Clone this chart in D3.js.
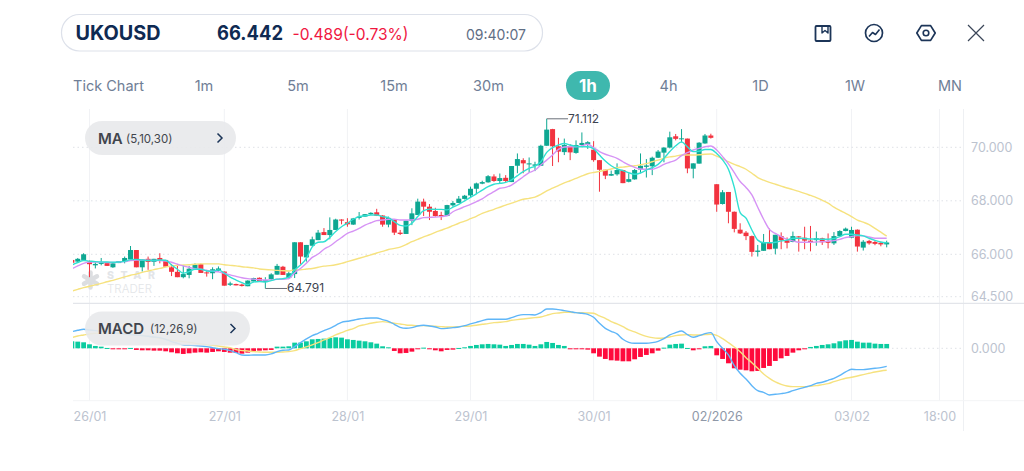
<!DOCTYPE html>
<html>
<head>
<meta charset="utf-8">
<script src="https://cdn.jsdelivr.net/npm/d3@7"></script>
<style>
  html, body { margin: 0; padding: 0; background: #fff; }
  svg { display: block; font-family: Inter, "Open Sans", sans-serif; }
</style>
</head>
<body>
<svg id="chart" width="1024" height="471"></svg>
<script>
// Hourly candles for UKOUSD
const opens = [
  65.80,65.74,65.80,65.74,65.61,65.66,65.69,65.54,65.69,65.73,
  65.82,66.16,65.54,65.84,65.73,65.87,65.80,65.54,65.38,65.19,
  65.27,65.47,65.65,65.36,65.33,65.41,65.39,64.92,64.95,64.93,
  64.87,65.04,65.17,65.02,65.12,65.28,65.56,65.16,65.30,66.45,
  65.89,66.32,66.53,66.83,66.72,66.91,67.30,67.20,67.11,67.36,
  67.41,67.50,67.57,67.45,67.11,67.30,66.81,66.76,67.25,67.47,
  67.97,67.78,67.62,67.47,67.43,67.83,67.92,68.07,68.20,68.45,
  68.64,68.69,68.91,68.74,68.86,68.70,69.31,69.52,69.36,69.31,
  69.31,70.06,70.71,70.04,69.82,70.05,69.79,70.09,70.12,69.91,
  69.52,69.16,68.94,68.99,69.15,68.71,68.80,69.17,69.27,69.29,
  69.61,69.80,69.99,70.43,70.32,70.34,69.20,69.39,70.15,70.46,
  68.62,67.88,68.33,67.59,66.92,66.81,66.68,66.09,66.13,66.44,
  66.21,66.68,66.53,66.46,66.67,66.62,66.51,66.53,66.60,66.50,
  66.41,66.68,66.87,66.62,66.92,66.25,66.50,66.46,66.43,66.37];
const highs = [
  65.86,65.87,66.04,65.78,65.72,65.87,65.71,65.70,65.76,65.92,
  66.31,66.16,65.82,65.92,65.84,66.04,65.80,65.66,65.66,65.60,
  65.59,65.68,65.67,65.45,65.54,65.57,65.39,65.03,64.96,64.96,
  65.08,65.17,65.18,65.19,65.33,65.66,65.59,65.39,66.45,66.45,
  66.35,66.66,66.91,66.98,67.38,67.33,67.31,67.35,67.36,67.58,
  67.50,67.57,67.70,67.46,67.41,67.31,66.91,67.26,67.72,68.08,
  68.08,67.88,67.74,67.59,67.85,67.99,68.18,68.22,68.53,68.68,
  68.75,68.96,68.99,69.02,68.96,69.30,69.77,69.59,69.62,69.46,
  70.10,71.112,70.72,70.37,70.34,70.12,70.27,70.58,70.24,70.24,
  69.52,69.16,69.13,69.40,69.16,69.03,69.19,69.77,69.56,69.65,
  69.90,70.00,70.61,70.52,70.71,70.34,69.40,70.20,70.52,70.53,
  68.62,68.40,68.33,67.60,67.16,66.87,66.70,66.35,66.76,66.96,
  66.73,66.82,66.63,66.85,66.68,67.03,67.06,66.85,66.62,66.78,
  66.83,66.90,67.00,67.03,66.93,66.53,66.54,66.51,66.46,66.51];
const lows = [
  65.66,65.73,65.80,65.19,65.50,65.61,65.59,65.52,65.69,65.68,
  65.82,65.54,65.39,65.45,65.59,65.68,65.56,65.23,65.19,65.15,
  65.15,65.45,65.34,65.21,65.12,65.39,64.89,64.88,64.90,64.86,
  64.87,65.04,65.02,64.791,65.07,65.28,65.27,65.12,65.16,65.66,
  65.74,66.30,66.53,66.72,66.56,66.91,67.12,67.03,67.10,67.30,
  67.40,67.47,67.43,67.03,67.01,66.72,66.72,66.76,67.09,67.47,
  67.43,67.28,67.41,67.28,67.43,67.78,67.92,68.05,68.13,68.25,
  68.62,68.68,68.71,68.65,68.70,68.70,69.03,69.03,69.05,69.11,
  69.31,70.06,69.30,69.44,69.71,69.52,69.76,70.06,69.94,69.46,
  68.34,68.81,68.93,68.94,68.66,68.69,68.79,69.03,68.87,68.96,
  69.60,69.44,69.96,70.27,70.19,69.03,68.84,69.39,70.14,70.34,
  67.59,67.86,67.16,66.82,66.76,66.53,65.92,65.92,66.13,66.19,
  66.00,66.19,66.22,66.45,66.10,66.19,66.11,66.32,66.35,66.22,
  66.35,66.67,66.86,66.60,66.10,66.14,66.36,66.34,66.30,66.26];
const closes = [
  65.70,65.84,66.00,65.65,65.66,65.70,65.59,65.68,65.76,65.87,
  66.16,65.54,65.82,65.73,65.84,65.78,65.56,65.38,65.19,65.30,
  65.49,65.63,65.34,65.33,65.47,65.50,64.89,64.97,64.90,64.88,
  65.07,65.16,65.02,65.09,65.29,65.59,65.27,65.33,66.45,65.92,
  66.35,66.56,66.81,66.72,66.91,67.30,67.26,67.12,67.34,67.41,
  67.50,67.55,67.44,67.11,67.36,66.81,66.76,67.26,67.53,67.97,
  67.78,67.59,67.43,67.42,67.84,67.92,68.08,68.19,68.45,68.65,
  68.70,68.92,68.74,68.85,68.74,69.30,69.56,69.40,69.40,69.36,
  70.06,70.69,70.04,69.84,70.09,69.81,70.09,70.17,70.20,69.52,
  69.16,68.94,69.00,69.15,68.66,68.81,69.15,69.31,69.32,69.61,
  69.84,69.99,70.39,70.33,70.35,69.21,69.40,70.18,70.46,70.37,
  67.86,68.32,67.59,66.95,66.78,66.68,66.09,66.14,66.45,66.19,
  66.73,66.52,66.43,66.68,66.65,66.51,66.46,66.60,66.45,66.43,
  66.68,66.87,66.96,66.91,66.29,66.47,66.41,66.39,66.37,66.442];

// Moving averages of the close
const ma5 = [
  65.62,65.71,65.78,65.76,65.74,65.73,65.73,65.72,65.73,65.75,
  65.81,65.82,65.80,65.78,65.78,65.80,65.79,65.62,65.47,65.33,
  65.39,65.47,65.47,65.41,65.40,65.45,65.33,65.19,65.09,65.00,
  64.93,65.02,65.04,65.02,65.07,65.12,65.14,65.19,65.45,65.62,
  65.86,66.28,66.45,66.47,66.63,66.85,67.03,67.16,67.31,67.41,
  67.44,67.47,67.47,67.41,67.37,67.22,67.08,67.06,67.16,67.41,
  67.63,67.69,67.68,67.68,67.66,67.76,67.87,68.00,68.13,68.26,
  68.40,68.53,68.62,68.65,68.69,68.78,68.94,69.09,69.21,69.30,
  69.46,69.81,69.99,70.09,70.15,70.09,70.04,70.02,70.02,69.94,
  69.71,69.49,69.31,69.19,69.13,69.05,68.99,69.04,69.15,69.24,
  69.36,69.59,69.84,70.06,70.21,70.02,69.84,69.85,69.92,69.92,
  69.77,69.53,69.18,68.50,67.56,67.35,66.91,66.53,66.43,66.43,
  66.45,66.50,66.53,66.60,66.60,66.59,66.57,66.57,66.56,66.56,
  66.59,66.66,66.75,66.75,66.72,66.69,66.60,66.52,66.46,66.43];
const ma10 = [
  65.49,65.59,65.68,65.73,65.73,65.72,65.71,65.71,65.73,65.74,
  65.78,65.80,65.80,65.79,65.78,65.78,65.76,65.72,65.65,65.59,
  65.54,65.49,65.47,65.43,65.40,65.38,65.33,65.27,65.22,65.17,
  65.14,65.12,65.10,65.09,65.09,65.12,65.12,65.14,65.35,65.50,
  65.68,65.89,66.01,66.19,66.31,66.47,66.63,66.78,66.87,66.97,
  67.09,67.18,67.26,67.28,67.31,67.31,67.28,67.28,67.28,67.31,
  67.37,67.38,67.39,67.41,67.44,67.59,67.69,67.78,67.87,67.97,
  68.07,68.22,68.34,68.47,68.50,68.59,68.74,68.90,69.05,69.15,
  69.34,69.52,69.71,69.92,70.01,70.02,70.02,70.06,70.12,69.99,
  69.84,69.74,69.67,69.59,69.46,69.34,69.25,69.19,69.18,69.18,
  69.25,69.36,69.44,69.52,69.69,69.80,69.90,69.96,70.02,70.05,
  69.90,69.65,69.38,69.05,68.72,68.50,68.22,67.76,67.31,66.93,
  66.78,66.66,66.56,66.50,66.45,66.45,66.45,66.46,66.47,66.49,
  66.51,66.56,66.63,66.66,66.70,66.69,66.65,66.60,66.60,66.60];
const ma30 = [
  64.70,64.76,64.82,64.87,64.92,64.97,65.03,65.08,65.14,65.20,
  65.26,65.30,65.36,65.41,65.46,65.50,65.55,65.59,65.61,65.62,
  65.63,65.65,65.66,65.66,65.66,65.66,65.63,65.61,65.59,65.56,
  65.54,65.52,65.48,65.46,65.45,65.43,65.42,65.41,65.45,65.45,
  65.48,65.50,65.54,65.58,65.60,65.63,65.68,65.74,65.80,65.86,
  65.92,65.98,66.05,66.11,66.18,66.22,66.27,66.36,66.47,66.56,
  66.65,66.73,66.82,66.90,66.98,67.07,67.16,67.24,67.33,67.42,
  67.53,67.61,67.68,67.76,67.84,67.91,67.99,68.06,68.09,68.14,
  68.24,68.37,68.47,68.57,68.67,68.75,68.84,68.93,69.01,69.06,
  69.10,69.14,69.19,69.24,69.26,69.29,69.31,69.35,69.39,69.46,
  69.52,69.59,69.64,69.67,69.71,69.71,69.71,69.72,69.74,69.75,
  69.67,69.58,69.46,69.36,69.28,69.18,69.03,68.87,68.77,68.69,
  68.62,68.55,68.48,68.42,68.35,68.28,68.20,68.12,68.02,67.91,
  67.76,67.64,67.53,67.41,67.28,67.20,67.11,66.97,66.83,66.68];

// MACD (12,26,9)
const dif = [
  .333,.36,.38,.367,.353,.34,.327,.313,.30,.287,
  .273,.267,.253,.24,.227,.213,.18,.133,.10,.067,
  .06,.053,.047,.033,.013,-.007,-.02,-.047,-.087,-.133,
  -.14,-.133,-.133,-.133,-.113,-.067,-.04,-.033,.033,.113,
  .187,.253,.30,.353,.40,.46,.52,.54,.56,.587,
  .60,.607,.607,.573,.54,.48,.42,.40,.413,.447,
  .46,.447,.427,.393,.40,.413,.427,.453,.487,.52,
  .553,.58,.58,.58,.58,.613,.653,.673,.673,.667,
  .713,.787,.787,.773,.753,.733,.713,.70,.68,.62,
  .50,.40,.34,.287,.18,.12,.10,.10,.10,.113,
  .14,.193,.267,.313,.347,.273,.22,.253,.293,.313,
  .133,0,-.133,-.347,-.50,-.613,-.747,-.847,-.88,-.933,
  -.92,-.907,-.887,-.847,-.813,-.78,-.747,-.70,-.68,-.64,
  -.60,-.54,-.473,-.42,-.427,-.427,-.413,-.40,-.387,-.36];
const dea = [
  .213,.247,.267,.287,.30,.30,.30,.30,.30,.287,
  .273,.267,.253,.24,.22,.20,.18,.16,.147,.133,
  .12,.10,.087,.073,.06,.047,.027,.013,-.027,-.047,
  -.053,-.067,-.073,-.08,-.08,-.08,-.073,-.067,-.047,-.007,
  .027,.067,.113,.167,.213,.267,.313,.36,.393,.447,
  .473,.50,.52,.533,.52,.50,.487,.467,.46,.453,
  .453,.447,.44,.433,.427,.427,.433,.44,.447,.46,
  .48,.493,.513,.52,.533,.56,.573,.587,.60,.613,
  .627,.66,.693,.707,.72,.72,.713,.713,.707,.70,
  .647,.60,.533,.487,.433,.367,.327,.28,.24,.213,
  .20,.207,.227,.253,.267,.273,.267,.267,.273,.28,
  .26,.193,.113,.027,-.067,-.187,-.287,-.40,-.513,-.60,
  -.673,-.72,-.753,-.767,-.767,-.767,-.76,-.747,-.727,-.707,
  -.667,-.633,-.60,-.58,-.553,-.527,-.50,-.473,-.453,-.44];
const hist = [
  .14,.133,.12,.08,.047,.033,.007,-.013,-.013,-.013,
  .007,-.033,-.04,-.04,-.047,-.047,-.06,-.08,-.10,-.113,
  -.10,-.087,-.08,-.087,-.073,-.06,-.073,-.087,-.093,-.107,
  -.087,-.053,-.047,-.04,-.033,.033,.033,.04,.113,.113,
  .14,.18,.187,.193,.207,.22,.213,.18,.167,.153,
  .14,.12,.093,.04,.02,-.053,-.10,-.093,-.067,-.013,
  .013,-.02,-.04,-.06,-.033,-.027,.007,.02,.047,.067,
  .08,.087,.08,.073,.047,.067,.087,.087,.073,.047,
  .08,.127,.107,.067,.047,-.013,-.013,-.013,-.027,-.10,
  -.167,-.213,-.24,-.247,-.26,-.26,-.22,-.173,-.133,-.10,
  -.047,.013,.073,.087,.093,.007,-.04,-.02,.04,.047,
  -.14,-.213,-.30,-.40,-.427,-.44,-.46,-.453,-.393,-.353,
  -.253,-.20,-.153,-.087,-.04,-.013,.027,.047,.067,.08,
  .10,.14,.16,.167,.133,.113,.113,.093,.087,.087];

// Axis labels and header text
const priceTicks = [70, 68, 66, 64.5];
const macdTicks = [0];
const timeTickIndex = [3, 26, 47, 68, 89, 110, 133, 148];
const timeTickLabels = ["26/01", "27/01", "28/01", "29/01", "30/01", "02/2026", "03/02", "18:00"];
const periods = ["Tick Chart", "1m", "5m", "15m", "30m", "1h", "4h", "1D", "1W", "MN"];
const periodCenters = [108.5, 204, 298, 394, 488.5, 588, 668.5, 760.5, 855, 950];
const symbol = "UKOUSD", lastPrice = "66.442", change = "-0.489(-0.73%)", clock = "09:40:07";
const highMark = 71.112, lowMark = 64.791;

const svg = d3.select("#chart");
const n = closes.length;

const x = d3.scaleLinear().domain([0, 139]).range([71.9, 886.7]);
const y = d3.scaleLinear().domain([64.5, 66, 70, 71.112]).range([296.7, 254.3, 147.3, 118.8]);
const m = d3.scaleLinear().domain([-1, 1]).range([398.3, 298.3]);

const clipLeft = 73, gridRight = 963.5;
svg.append("defs").append("clipPath").attr("id", "plot")
  .append("rect").attr("x", clipLeft).attr("y", 100).attr("width", gridRight - clipLeft).attr("height", 302);

// Header pill
svg.append("rect").attr("x", 61.5).attr("y", 14.5).attr("width", 481).attr("height", 36.5).attr("rx", 18)
  .attr("fill", "#fff").attr("stroke", "#dde1ea").attr("stroke-width", 1.2);
const head = (txt, px, size, weight, color, tl) => {
  const t = svg.append("text").attr("x", px).attr("y", 40).text(txt)
    .attr("font-size", size).attr("font-weight", weight).attr("fill", color);
  if (tl) t.attr("textLength", tl).attr("lengthAdjust", "spacingAndGlyphs");
  return t;
};
head(symbol, 75.5, 19.5, 700, "#0f2a52", 85);
head(lastPrice, 217, 19.5, 700, "#0f2a52", 66);
head(change, 292.5, 16.5, 400, "#f0173f", 116);
head(clock, 466, 14.5, 400, "#5f6e85", 60);

// Toolbar icons
const ink = "#1c3558";
const icons = svg.append("g").attr("fill", "none").attr("stroke", ink).attr("stroke-linejoin", "round");
icons.append("rect").attr("x", 815.5).attr("y", 26).attr("width", 15).attr("height", 15).attr("rx", 1).attr("stroke-width", 1.8);
icons.append("path").attr("d", "M822,26V33L825,30.5L828,33V26").attr("stroke-width", 1.4);
icons.append("circle").attr("cx", 874).attr("cy", 33).attr("r", 8.5).attr("stroke-width", 1.7);
icons.append("path").attr("d", "M869,36.5L872.5,32.5L875.5,34.5L879.5,29.5").attr("stroke-width", 1.6);
icons.append("path").attr("d", "M916.8,33L921.4,25.6H930.6L935.2,33L930.6,40.4H921.4Z").attr("stroke-width", 1.7);
icons.append("circle").attr("cx", 926).attr("cy", 33).attr("r", 2.8).attr("stroke-width", 1.6);
icons.append("path").attr("d", "M968,25L984,41M984,25L968,41").attr("stroke", "#3a4658").attr("stroke-width", 1.2);

// Period selector
svg.append("rect").attr("x", 566).attr("y", 71).attr("width", 44).attr("height", 29).attr("rx", 14.5).attr("fill", "#3fb8ae");
svg.append("g").selectAll("text").data(periods).join("text")
  .attr("x", (d, i) => periodCenters[i]).attr("y", (d, i) => d === "1h" ? 92 : 90.5)
  .attr("text-anchor", "middle")
  .attr("font-size", d => d === "1h" ? 17 : 14.5)
  .attr("font-weight", d => d === "1h" ? 700 : 400)
  .attr("fill", d => d === "1h" ? "#fff" : "#6f7e96")
  .text(d => d);

// Grid
const grid = svg.append("g");
grid.selectAll("line.v").data(timeTickIndex).join("line").attr("class", "v")
  .attr("x1", d => x(d)).attr("x2", d => x(d)).attr("y1", 109).attr("y2", 400.5)
  .attr("stroke", "#f1f2f5");
grid.selectAll("line.h").data(priceTicks).join("line").attr("class", "h")
  .attr("x1", clipLeft).attr("x2", gridRight).attr("y1", d => y(d)).attr("y2", d => y(d))
  .attr("stroke", "#dfe2e7").attr("stroke-dasharray", "1.5 3");
grid.append("line").attr("x1", clipLeft).attr("x2", gridRight).attr("y1", m(0)).attr("y2", m(0))
  .attr("stroke", "#dfe2e7").attr("stroke-dasharray", "1.5 3");
grid.append("line").attr("x1", gridRight).attr("x2", gridRight).attr("y1", 109).attr("y2", 431).attr("stroke", "#eef0f3");
grid.append("line").attr("x1", clipLeft).attr("x2", 1024).attr("y1", 303.3).attr("y2", 303.3).attr("stroke", "#e3e5ea").attr("stroke-width", 1.2);
grid.append("line").attr("x1", clipLeft).attr("x2", 1024).attr("y1", 400.7).attr("y2", 400.7).attr("stroke", "#f3f4f6");

// Watermark
const mark = svg.append("g").attr("fill", "#e3e5e8");
mark.append("text").attr("x", 107).attr("y", 279).attr("font-size", 10.5).attr("font-weight", 800).attr("letter-spacing", 6.6).text("STAR");
mark.append("text").attr("x", 107).attr("y", 292.5).attr("font-size", 11.5).attr("font-weight", 300).attr("textLength", 45).text("TRADER");
mark.append("g").attr("transform", "translate(90.5,280)")
  .selectAll("line").data([0, 60, 120]).join("line")
  .attr("x1", -7.5).attr("x2", 7.5).attr("transform", d => `rotate(${d + 30})`)
  .attr("stroke", "#dcdee1").attr("stroke-width", 4.5).attr("stroke-linecap", "round");

// Candles
const GREEN = "#0ea792", RED = "#f2333f";
const plot = svg.append("g").attr("clip-path", "url(#plot)");
const candle = plot.selectAll("g.candle").data(d3.range(n)).join("g").attr("class", "candle")
  .attr("stroke", i => closes[i] >= opens[i] ? GREEN : RED)
  .attr("fill", i => closes[i] >= opens[i] ? GREEN : RED);
candle.append("line").attr("x1", x).attr("x2", x)
  .attr("y1", i => y(highs[i])).attr("y2", i => y(lows[i])).attr("stroke-width", 1);
candle.append("rect").attr("stroke", "none")
  .attr("x", i => x(i) - 2.5).attr("width", 5)
  .attr("y", i => Math.min(y(opens[i]), y(closes[i])))
  .attr("height", i => Math.max(1, Math.abs(y(opens[i]) - y(closes[i]))));

// Moving average lines
const priceLine = d3.line().x((d, i) => x(i)).y(d => y(d)).curve(d3.curveMonotoneX);
[[ma30, "#f6e27f"], [ma10, "#d693f5"], [ma5, "#30e0d2"]].forEach(([s, c]) =>
  plot.append("path").attr("d", priceLine(s)).attr("fill", "none").attr("stroke", c).attr("stroke-width", 1.4));

// High and low callouts
const dim = "#3c4350";
const callout = (idx, value, x2, dy) => {
  svg.append("line").attr("x1", x(idx)).attr("x2", x2).attr("y1", y(value)).attr("y2", y(value)).attr("stroke", "#6a7078");
  svg.append("text").attr("x", x2).attr("y", y(value) + dy).attr("font-size", 12).attr("fill", dim).text(d3.format(".3f")(value));
};
callout(d3.maxIndex(highs), highMark, 568, 4);
callout(d3.minIndex(lows), lowMark, 287, 4);

// MACD histogram and lines
plot.selectAll("rect.hist").data(d3.range(n)).join("rect").attr("class", "hist")
  .attr("x", i => x(i) - 2.4).attr("width", 4.8)
  .attr("y", i => Math.min(m(0), m(hist[i])))
  .attr("height", i => Math.max(1, Math.abs(m(hist[i]) - m(0))))
  .attr("fill", i => hist[i] >= 0 ? "#0accA0" : "#ff0a3c");
const macdLine = d3.line().x((d, i) => x(i)).y(d => m(d)).curve(d3.curveMonotoneX);
[[dea, "#f6e27f"], [dif, "#5fb6f8"]].forEach(([s, c]) =>
  plot.append("path").attr("d", macdLine(s)).attr("fill", "none").attr("stroke", c).attr("stroke-width", 1.4));

// Axes
const styleAxis = g => {
  g.select(".domain").remove();
  g.selectAll(".tick line").remove();
  g.selectAll(".tick text").attr("fill", "#bcc3cf").attr("font-size", 12.5);
};
svg.append("g").attr("transform", "translate(964,0)")
  .call(d3.axisRight(y).tickValues(priceTicks).tickFormat(d3.format(".3f")).tickSize(0).tickPadding(7))
  .attr("font-family", null).call(styleAxis);
svg.append("g").attr("transform", "translate(964,0)")
  .call(d3.axisRight(m).tickValues(macdTicks).tickFormat(d3.format(".3f")).tickSize(0).tickPadding(7))
  .attr("font-family", null).call(styleAxis);
svg.append("g").attr("transform", "translate(0,404)")
  .call(d3.axisBottom(x).tickValues(timeTickIndex).tickFormat((d, i) => timeTickLabels[i]).tickSize(0).tickPadding(8))
  .attr("font-family", null).call(styleAxis)
  .selectAll(".tick text").attr("fill", (d, i) => timeTickLabels[i] === "02/2026" ? "#8f98a8" : "#bcc3cf");

// Indicator pills, laid over the plot
const pill = (px, py, w, h, name, params, paramsX, chevX) => {
  svg.append("rect").attr("x", px).attr("y", py).attr("width", w).attr("height", h).attr("rx", h / 2)
    .attr("fill", "#e8e9eb").attr("fill-opacity", 0.9);
  svg.append("text").attr("x", 98).attr("y", py + h / 2 + 5.5).attr("font-size", 15).attr("font-weight", 600).attr("fill", "#41454c").text(name);
  svg.append("text").attr("x", paramsX).attr("y", py + h / 2 + 4.5).attr("font-size", 11.5).attr("fill", "#41454c").text(params);
  svg.append("path").attr("d", `M${chevX - 2.5},${py + h / 2 - 4.5}L${chevX + 2},${py + h / 2}L${chevX - 2.5},${py + h / 2 + 4.5}`)
    .attr("fill", "none").attr("stroke", "#1c3558").attr("stroke-width", 1.5);
};
pill(85, 121, 151, 34, "MA", "(5,10,30)", 126, 220);
pill(85, 311.5, 165, 34, "MACD", "(12,26,9)", 150, 233);
</script>
</body>
</html>
